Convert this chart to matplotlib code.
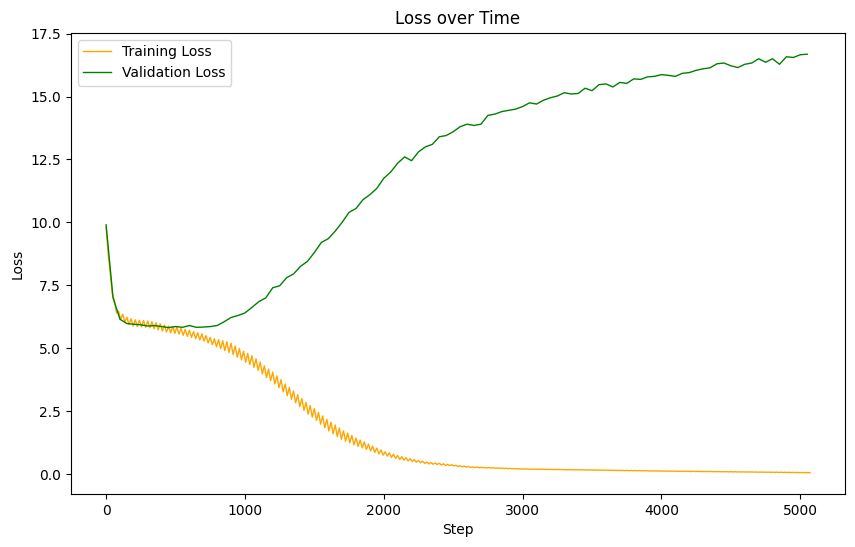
'''
Loss over Time chart: training loss (orange) and validation loss (green) per step.
Values are read by eye off the reference picture.
'''

import numpy as np
import matplotlib
matplotlib.use("Agg")
import matplotlib.pyplot as plt

#validation loss, one value every 50 steps
val_steps = np.arange(0, 5051, 50)
val_loss = [9.9, 7.0, 6.15, 5.98, 5.95, 5.93, 5.88, 5.90, 5.86, 5.82,
            5.86, 5.83, 5.90, 5.83, 5.84, 5.86, 5.90, 6.05, 6.22, 6.30,
            6.40, 6.62, 6.85, 7.00, 7.40, 7.48, 7.80, 7.95, 8.25, 8.45,
            8.80, 9.20, 9.35, 9.65, 10.0, 10.4, 10.55, 10.9, 11.1, 11.35,
            11.75, 12.0, 12.35, 12.6, 12.45, 12.8, 13.0, 13.1, 13.4, 13.45,
            13.6, 13.8, 13.9, 13.85, 13.9, 14.25, 14.3, 14.4, 14.45, 14.5,
            14.6, 14.75, 14.7, 14.85, 14.95, 15.02, 15.15, 15.1, 15.12, 15.33,
            15.23, 15.47, 15.5, 15.38, 15.56, 15.52, 15.7, 15.68, 15.78, 15.8,
            15.87, 15.84, 15.8, 15.92, 15.95, 16.04, 16.1, 16.14, 16.3, 16.33,
            16.22, 16.15, 16.28, 16.33, 16.5, 16.36, 16.5, 16.28, 16.58, 16.55,
            16.66, 16.68]

#training loss wiggles fast: tops of the wiggles at steps 0, 30, 60 ...
train_top = [9.8, 7.98, 6.88, 6.47, 6.35, 6.23, 6.17, 6.13, 6.11, 6.10,
             6.08, 6.05, 6.01, 5.97, 5.92, 5.88, 5.86, 5.84, 5.79, 5.75,
             5.71, 5.66, 5.61, 5.57, 5.50, 5.43, 5.37, 5.34, 5.30, 5.26,
             5.20, 5.09, 4.99, 4.88, 4.79, 4.70, 4.58, 4.45, 4.30, 4.17,
             4.05, 3.90, 3.75, 3.58, 3.44, 3.30, 3.15, 3.00, 2.85, 2.72,
             2.60, 2.45, 2.31, 2.17, 2.06, 1.95, 1.83, 1.72, 1.63, 1.53,
             1.43, 1.35, 1.28, 1.19, 1.11, 1.03, 0.96, 0.89, 0.85, 0.79,
             0.74, 0.69, 0.65, 0.61, 0.58, 0.54, 0.51, 0.48, 0.46, 0.44,
             0.43, 0.41, 0.385, 0.37, 0.35, 0.33, 0.315, 0.305, 0.285, 0.28,
             0.27, 0.26, 0.26, 0.25, 0.244, 0.238, 0.232, 0.226, 0.22, 0.214,
             0.208, 0.202, 0.199, 0.197, 0.195, 0.192, 0.190, 0.187, 0.185, 0.183,
             0.180, 0.178, 0.175, 0.173, 0.170, 0.168, 0.166, 0.163, 0.161, 0.158,
             0.156, 0.154, 0.151, 0.149, 0.146, 0.144, 0.142, 0.139, 0.137, 0.134,
             0.132, 0.130, 0.127, 0.125, 0.122, 0.121, 0.119, 0.117, 0.115, 0.113,
             0.112, 0.110, 0.108, 0.106, 0.104, 0.103, 0.101, 0.099, 0.097, 0.095,
             0.094, 0.092, 0.090, 0.088, 0.086, 0.085, 0.083, 0.081, 0.079, 0.077,
             0.076, 0.074, 0.072, 0.070, 0.068, 0.067, 0.065, 0.063, 0.061, 0.059]

#bottoms of the wiggles at steps 15, 45, 75 ...
train_low = [8.75, 7.15, 6.40, 6.15, 6.04, 5.94, 5.88, 5.86, 5.85, 5.83,
             5.81, 5.77, 5.73, 5.68, 5.64, 5.61, 5.59, 5.56, 5.51, 5.47,
             5.43, 5.38, 5.33, 5.28, 5.21, 5.14, 5.06, 4.98, 4.90, 4.83,
             4.75, 4.64, 4.54, 4.44, 4.35, 4.24, 4.12, 3.98, 3.83, 3.71,
             3.58, 3.43, 3.27, 3.11, 2.97, 2.83, 2.68, 2.53, 2.38, 2.26,
             2.13, 1.98, 1.84, 1.71, 1.60, 1.49, 1.38, 1.30, 1.24, 1.16,
             1.10, 1.04, 0.98, 0.92, 0.86, 0.80, 0.75, 0.71, 0.66, 0.62,
             0.58, 0.55, 0.52, 0.50, 0.47, 0.45, 0.42, 0.40, 0.39, 0.38,
             0.36, 0.34, 0.335, 0.32, 0.30, 0.29, 0.275, 0.265, 0.255, 0.25,
             0.25, 0.24, 0.235, 0.232, 0.225, 0.219, 0.213, 0.207, 0.201, 0.195,
             0.195, 0.193, 0.190, 0.188, 0.185, 0.183, 0.181, 0.178, 0.176, 0.173,
             0.171, 0.169, 0.166, 0.164, 0.161, 0.159, 0.157, 0.154, 0.152, 0.149,
             0.147, 0.145, 0.142, 0.140, 0.137, 0.135, 0.133, 0.130, 0.128, 0.125,
             0.123, 0.121, 0.118, 0.116, 0.114, 0.112, 0.110, 0.109, 0.107, 0.105,
             0.103, 0.101, 0.100, 0.098, 0.096, 0.094, 0.092, 0.091, 0.089, 0.087,
             0.085, 0.083, 0.082, 0.080, 0.078, 0.076, 0.074, 0.073, 0.071, 0.069,
             0.067, 0.065, 0.064, 0.062, 0.060, 0.058, 0.056, 0.055, 0.053]


def merge_train():
    #steps of tops and bottoms, then put everything in step order
    top_steps = np.arange(len(train_top)) * 30
    low_steps = np.arange(len(train_low)) * 30 + 15
    steps = np.concatenate([top_steps, low_steps])
    loss = np.concatenate([train_top, train_low])
    order = np.argsort(steps)
    return steps[order], loss[order]


def main():
    fig = plt.figure(figsize=(8.55, 5.47), dpi=100)
    ax = fig.add_axes([0.083, 0.097, 0.905, 0.843])

    steps, loss = merge_train()
    ax.plot(steps, loss, color="orange", linewidth=1, label="Training Loss")
    ax.plot(val_steps, val_loss, color="green", linewidth=1, label="Validation Loss")

    ax.set_xlim(-253, 5320)
    ax.set_ylim(-0.79, 17.53)
    ax.set_title("Loss over Time")
    ax.set_xlabel("Step")
    ax.set_ylabel("Loss")
    ax.legend(loc="upper left")

    fig.savefig("out.png", dpi=100)


if __name__ == "__main__":
    main()
